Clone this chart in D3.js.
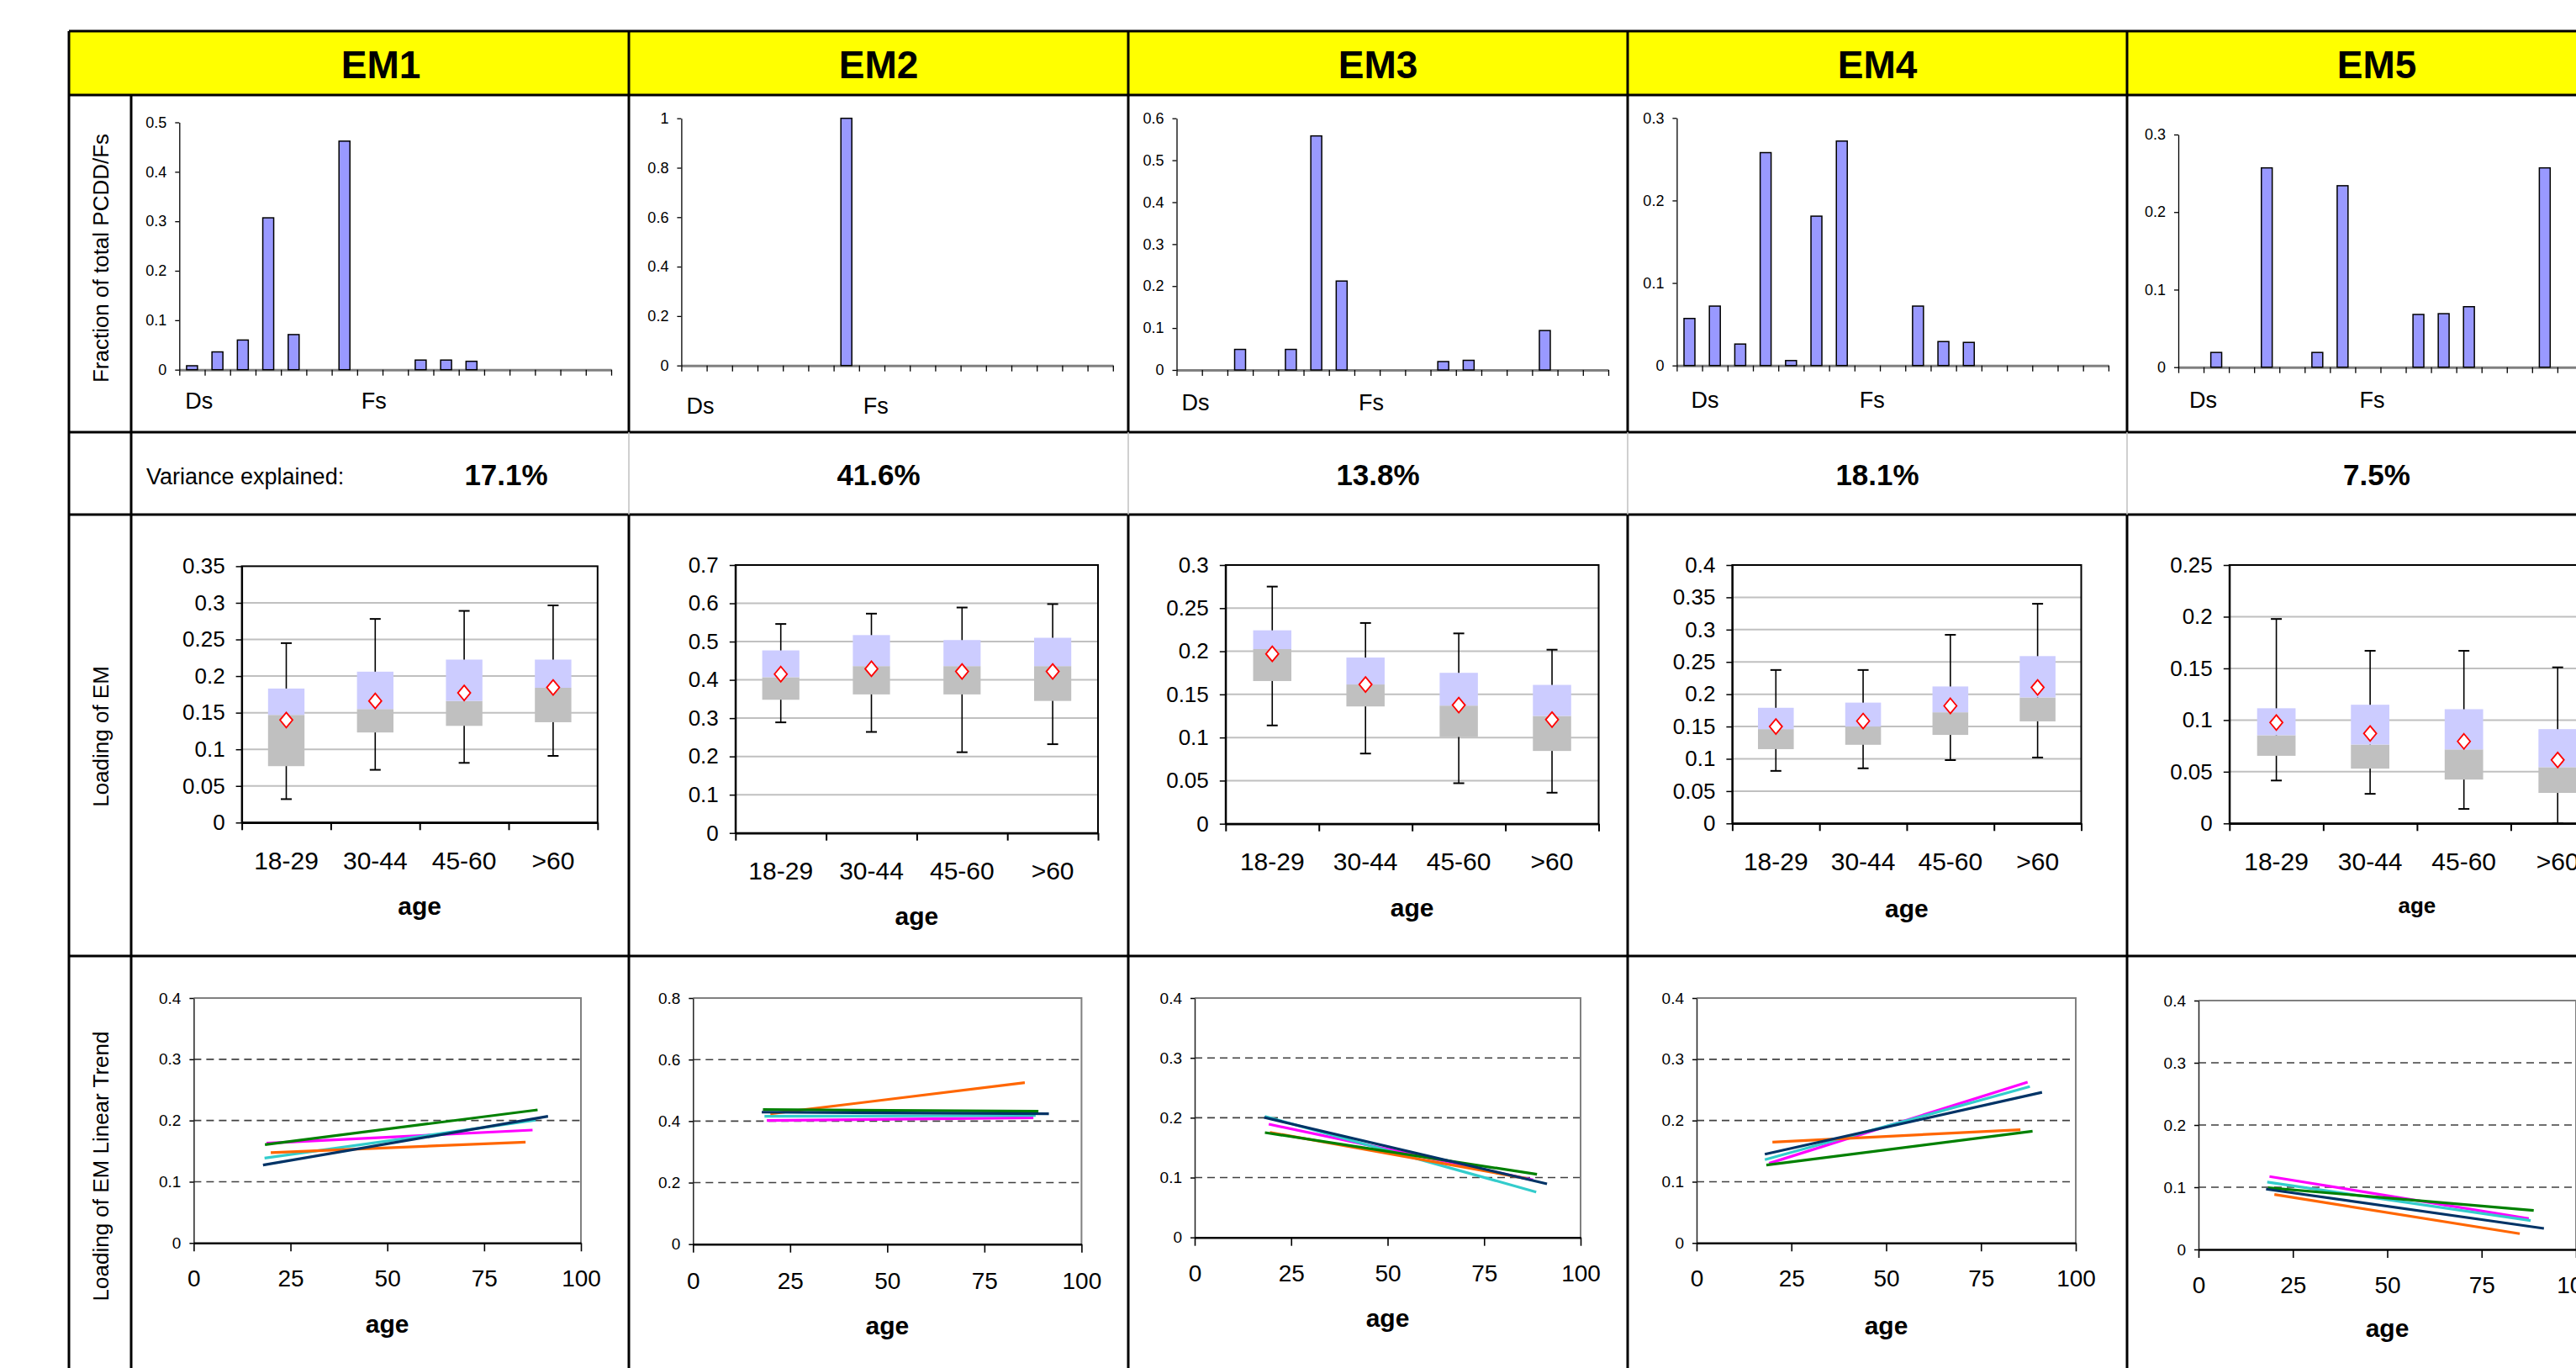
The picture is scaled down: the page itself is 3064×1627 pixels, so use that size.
<!DOCTYPE html>
<html><head><meta charset="utf-8">
<script src="https://cdn.jsdelivr.net/npm/d3@7"></script>
<style>
html,body{margin:0;padding:0;background:#fff;overflow:hidden;}
svg{display:block;font-family:"Liberation Sans",Arial,Helvetica,sans-serif;}
</style></head><body>
<svg id="chart" width="3064" height="1627"></svg>
<script>
// ================= DATA =================
const emNames = ["EM1","EM2","EM3","EM4","EM5"];
const varianceExplained = ["17.1%","41.6%","13.8%","18.1%","7.5%"];
const varianceLabel = "Variance explained:";
const rowLabels = ["Fraction of total PCDD/Fs","Loading of EM","Loading of EM Linear Trend"];

// congener profiles (17 congeners: 7 PCDDs then 10 PCDFs)
const profileGroupLabels = ["Ds","Fs"];
const profileGroupStart = [0, 7];
const profileEM1 = [0.008,0.036,0.060,0.307,0.071,0,0.462,0,0,0.0195,0.0195,0.017,0,0,0,0,0];
const profileEM2 = [0,0,0,0,0,0,1.0,0,0,0,0,0,0,0,0,0,0];
const profileEM3 = [0,0,0.049,0,0.049,0.558,0.212,0,0,0,0.020,0.023,0,0,0.094,0,0];
const profileEM4 = [0.057,0.072,0.026,0.258,0.006,0.181,0.272,0,0,0.072,0.029,0.028,0,0,0,0,0];
const profileEM5 = [0,0.019,0,0.257,0,0.019,0.234,0,0,0.068,0.069,0.078,0,0,0.257,0,0];
const profileMax  = [0.5,1,0.6,0.3,0.3];
const profileStep = [0.1,0.2,0.1,0.1,0.1];

// box plots by age group: [whiskerLow, q1, median, q3, whiskerHigh, mean]
const ageGroups = ["18-29","30-44","45-60",">60"];
const boxEM1 = [[0.032,0.077,0.147,0.183,0.245,0.140],[0.072,0.123,0.155,0.206,0.278,0.166],[0.0815,0.132,0.166,0.2225,0.289,0.177],[0.091,0.137,0.184,0.2225,0.2965,0.1845]];
const boxEM2 = [[0.289,0.348,0.407,0.477,0.546,0.415],[0.264,0.362,0.436,0.517,0.573,0.429],[0.211,0.362,0.436,0.504,0.589,0.422],[0.232,0.345,0.436,0.510,0.598,0.422]];
const boxEM3 = [[0.114,0.1655,0.2025,0.2243,0.275,0.197],[0.0814,0.136,0.1615,0.1927,0.2328,0.1615],[0.047,0.1006,0.137,0.175,0.2207,0.1376],[0.036,0.0844,0.125,0.161,0.2018,0.1208]];
const boxEM4 = [[0.0813,0.115,0.146,0.179,0.2375,0.150],[0.0853,0.1217,0.150,0.187,0.2375,0.1585],[0.098,0.137,0.172,0.212,0.292,0.182],[0.102,0.158,0.195,0.259,0.340,0.2105]];
const boxEM5 = [[0.0415,0.0654,0.0853,0.1114,0.1978,0.0976],[0.0286,0.053,0.0763,0.1148,0.167,0.087],[0.014,0.0424,0.0716,0.1105,0.167,0.0794],[0.0,0.0295,0.0544,0.0912,0.151,0.0614]];
const boxMax  = [0.35,0.7,0.3,0.4,0.25];
const boxStep = [0.05,0.1,0.05,0.05,0.05];

// linear trends: [ageStart, loadingStart, ageEnd, loadingEnd] per series
const trendSeries = ["magenta","cyan","orange","green","navy"];
const trendEM1 = [[18.8,0.163,87.5,0.1844],[18.3,0.1387,88.3,0.2005],[19.9,0.1474,85.7,0.1648],[18.4,0.1606,88.8,0.2174],[17.9,0.1272,91.5,0.2069]];
const trendEM2 = [[19.0,0.4018,87.6,0.411],[18.4,0.4155,88.2,0.418],[19.9,0.4237,85.4,0.5248],[18.0,0.4374,88.9,0.432],[17.7,0.429,91.6,0.4237]];
const trendEM3 = [[19.2,0.1892,87.7,0.096],[18.2,0.2023,88.5,0.0759],[19.5,0.1756,86.0,0.0984],[18.2,0.1752,88.7,0.1054],[18.0,0.2005,91.3,0.0895]];
const trendEM4 = [[19.1,0.130,87.3,0.2627],[18.0,0.136,87.9,0.2554],[20.0,0.1648,85.4,0.1849],[18.4,0.1272,88.6,0.1826],[18.0,0.145,91.1,0.246]];
const trendEM5 = [[18.8,0.1172,87.5,0.0496],[18.2,0.1082,88.0,0.0464],[20.1,0.0884,85.1,0.0253],[18.4,0.0992,88.8,0.0627],[17.9,0.097,91.5,0.0338]];
const trendAgeTicks = [0,25,50,75,100];
const trendMax  = [0.4,0.8,0.4,0.4,0.4];
const trendStep = [0.1,0.2,0.1,0.1,0.1];
const axisTitle = "age";

// ================= LAYOUT / STYLE =================
const profiles = [profileEM1,profileEM2,profileEM3,profileEM4,profileEM5];
const boxes = [boxEM1,boxEM2,boxEM3,boxEM4,boxEM5];
const trends = [trendEM1,trendEM2,trendEM3,trendEM4,trendEM5];
const seriesColor = {magenta:"#FF00FF", cyan:"#33CCCC", orange:"#FF6600", green:"#008000", navy:"#003366"};

const W = 3064, H = 1627;
const colX = [156,748,1342,1936,2530];
const colW = 594;
const rowY = [37,113,514,612,1137];
const tableLeft = 82;

const profileLayout = [
  {x0:213.3, x1:727,    y0:439.7, yTop:145.5, labBase:486,   labOff:[7,5]},
  {x0:810.4, x1:1323.8, y0:434.7, yTop:140.7, labBase:491.7, labOff:[6,5]},
  {x0:1399.5,x1:1913,   y0:440,   yTop:140.7, labBase:488,   labOff:[6,5]},
  {x0:1994.4,x1:2507.9, y0:434.7, yTop:140.3, labBase:485,   labOff:[17,6]},
  {x0:2591,  x1:3102,   y0:436.7, yTop:160,   labBase:485,   labOff:[13,5]}
];
const boxLayout = [
  {x0:287.6, x1:710.8, y0:978.3, yTop:673.4, labBase:1034, ageBase:1088, ageFs:30},
  {x0:874.8, x1:1306,  y0:990.7, yTop:672,   labBase:1046, ageBase:1100, ageFs:30},
  {x0:1457.8,x1:1901.5,y0:979.7, yTop:672,   labBase:1035, ageBase:1090, ageFs:30},
  {x0:2060.4,x1:2475.5,y0:979.3, yTop:672,   labBase:1035, ageBase:1091, ageFs:30},
  {x0:2651.8,x1:3098,  y0:979.3, yTop:672,   labBase:1035, ageBase:1086, ageFs:26}
];
const trendLayout = [
  {x0:230.4, x1:691,    y0:1478.3, yTop:1187, labBase:1530,   ageBase:1585},
  {x0:824.3, x1:1286.4, y0:1479.7, yTop:1187, labBase:1532.7, ageBase:1586.7},
  {x0:1421,  x1:1880,   y0:1471.7, yTop:1187, labBase:1524,   ageBase:1578},
  {x0:2018,  x1:2469,   y0:1478.3, yTop:1187, labBase:1530,   ageBase:1586.7},
  {x0:2615,  x1:3064,   y0:1486,   yTop:1190, labBase:1538,   ageBase:1590}
];

const fmt = d3.format(".2~f");
function ticksFor(max, step){ return d3.range(0, Math.round(max/step)+1).map(k => +(k*step).toFixed(4)); }
function styleAxis(g, o){
  g.selectAll("text").attr("font-size", o.fs).attr("fill","#000")
    .attr("font-family",'"Liberation Sans",Arial,sans-serif');
  g.selectAll(".tick line").attr("stroke", o.tickColor || "#000").attr("stroke-width", o.tw || 1.5);
  if (o.noDomain) g.select(".domain").remove();
  else g.select(".domain").attr("stroke", o.domainColor || "#000").attr("stroke-width", o.dw || 1.5);
}

const svg = d3.select("#chart");
svg.append("rect").attr("width",W).attr("height",H).attr("fill","#fff");

// ---------- table ----------
svg.append("rect").attr("x",tableLeft).attr("y",rowY[0]).attr("width",W-tableLeft+10).attr("height",rowY[1]-rowY[0]).attr("fill","#FFFF00");
const tbl = svg.append("g").attr("stroke","#000").attr("stroke-width",3);
rowY.forEach(y => tbl.append("line").attr("x1",tableLeft).attr("x2",W+10).attr("y1",y).attr("y2",y));
tbl.append("line").attr("x1",tableLeft).attr("x2",tableLeft).attr("y1",rowY[0]).attr("y2",H+10);
tbl.append("line").attr("x1",colX[0]).attr("x2",colX[0]).attr("y1",rowY[1]).attr("y2",H+10);
colX.slice(1).forEach(x => {
  tbl.append("line").attr("x1",x).attr("x2",x).attr("y1",rowY[0]).attr("y2",rowY[2]);
  tbl.append("line").attr("x1",x).attr("x2",x).attr("y1",rowY[2]).attr("y2",rowY[3]).attr("stroke","#C0C0C0").attr("stroke-width",1.5);
  tbl.append("line").attr("x1",x).attr("x2",x).attr("y1",rowY[3]).attr("y2",H+10);
});

// titles
emNames.forEach((n,i) => {
  svg.append("text").attr("x",colX[i]+colW/2).attr("y",93).attr("text-anchor","middle")
    .attr("font-size",46).attr("font-weight","bold").text(n);
});

// row labels
const rowLabelCenters = [307, 876, 1387];
rowLabels.forEach((t,i) => {
  svg.append("text").attr("transform",`translate(119.5,${rowLabelCenters[i]}) rotate(-90)`)
    .attr("text-anchor","middle").attr("dominant-baseline","central")
    .attr("font-size",26).text(t);
});

// variance row
svg.append("text").attr("x",174).attr("y",576).attr("font-size",27).text(varianceLabel);
varianceExplained.forEach((v,i) => {
  const cx = i === 0 ? 602 : colX[i] + colW/2;
  svg.append("text").attr("x",cx).attr("y",577).attr("text-anchor","middle")
    .attr("font-size",35).attr("font-weight","bold").text(v);
});

// ---------- profile bar charts ----------
profiles.forEach((data,i) => {
  const p = profileLayout[i];
  const g = svg.append("g");
  const n = data.length;
  const xBand = d3.scaleBand().domain(d3.range(n)).range([p.x0,p.x1]).paddingInner(0.57).paddingOuter(0.285);
  const xLin = d3.scaleLinear().domain([0,n]).range([p.x0,p.x1]);
  const y = d3.scaleLinear().domain([0,profileMax[i]]).range([p.y0,p.yTop]);
  // x axis
  const gx = g.append("g").attr("transform",`translate(0,${p.y0})`)
    .call(d3.axisBottom(xLin).tickValues(d3.range(n+1)).tickSize(7).tickSizeOuter(0).tickFormat(""));
  styleAxis(gx,{fs:18, domainColor:"#808080", dw:3, tw:1.3});
  // y axis
  const gy = g.append("g").attr("transform",`translate(${p.x0},0)`)
    .call(d3.axisLeft(y).tickValues(ticksFor(profileMax[i],profileStep[i])).tickSize(5).tickSizeOuter(0).tickPadding(10).tickFormat(fmt));
  styleAxis(gy,{fs:18, dw:1.3, tw:1.3});
  // bars
  g.selectAll("rect.bar").data(data.map((v,k)=>({v,k})).filter(d=>d.v>0)).join("rect")
    .attr("class","bar")
    .attr("x",d=>xBand(d.k)).attr("width",xBand.bandwidth())
    .attr("y",d=>y(d.v)).attr("height",d=>p.y0-y(d.v))
    .attr("fill","#9999FF").attr("stroke","#000").attr("stroke-width",1.5);
  // group labels
  profileGroupLabels.forEach((t,k) => {
    g.append("text").attr("x",xLin(profileGroupStart[k])+p.labOff[k]).attr("y",p.labBase)
      .attr("font-size",27).text(t);
  });
});

// ---------- box plots ----------
boxes.forEach((data,i) => {
  const p = boxLayout[i];
  const g = svg.append("g");
  const xBand = d3.scaleBand().domain(ageGroups).range([p.x0,p.x1]).paddingInner(0.59).paddingOuter(0.295);
  const xLin = d3.scaleLinear().domain([0,ageGroups.length]).range([p.x0,p.x1]);
  const y = d3.scaleLinear().domain([0,boxMax[i]]).range([p.y0,p.yTop]);
  const ticks = ticksFor(boxMax[i],boxStep[i]);
  // gridlines
  g.selectAll("line.grid").data(ticks.filter(t=>t>0 && t<boxMax[i]-1e-9)).join("line")
    .attr("x1",p.x0).attr("x2",p.x1).attr("y1",d=>y(d)).attr("y2",d=>y(d))
    .attr("stroke","#C0C0C0").attr("stroke-width",2);
  // border
  g.append("rect").attr("x",p.x0).attr("y",p.yTop).attr("width",p.x1-p.x0).attr("height",p.y0-p.yTop)
    .attr("fill","none").attr("stroke","#000").attr("stroke-width",2);
  // axes
  const gy = g.append("g").attr("transform",`translate(${p.x0},0)`)
    .call(d3.axisLeft(y).tickValues(ticks).tickSize(7).tickSizeOuter(0).tickPadding(13).tickFormat(fmt));
  styleAxis(gy,{fs:26, dw:2});
  const gx = g.append("g").attr("transform",`translate(0,${p.y0})`)
    .call(d3.axisBottom(xLin).tickValues(d3.range(ageGroups.length+1)).tickSize(9).tickSizeOuter(0).tickFormat(""));
  styleAxis(gx,{fs:26, dw:2.5, tw:2});
  const labFs = 30;
  const gl = g.append("g").attr("transform",`translate(0,${p.y0})`)
    .call(d3.axisBottom(xBand).tickSize(0).tickPadding(p.labBase - p.y0 - 0.71*labFs));
  styleAxis(gl,{fs:labFs, noDomain:true});
  // boxes
  const bw = xBand.bandwidth();
  data.forEach((d,k) => {
    const [wl,q1,med,q3,wh,mean] = d;
    const cx = xBand(ageGroups[k]) + bw/2;
    g.append("line").attr("x1",cx).attr("x2",cx).attr("y1",y(wl)).attr("y2",y(wh)).attr("stroke","#000").attr("stroke-width",1.6);
    [wl,wh].forEach(v => g.append("line").attr("x1",cx-6.5).attr("x2",cx+6.5).attr("y1",y(v)).attr("y2",y(v)).attr("stroke","#000").attr("stroke-width",2));
    g.append("rect").attr("x",cx-bw/2).attr("width",bw).attr("y",y(med)).attr("height",y(q1)-y(med)).attr("fill","#C0C0C0");
    g.append("rect").attr("x",cx-bw/2).attr("width",bw).attr("y",y(q3)).attr("height",y(med)-y(q3)).attr("fill","#CCCCFF");
    const my = y(mean);
    g.append("path").attr("d",`M${cx},${my-9}L${cx+7.5},${my}L${cx},${my+9}L${cx-7.5},${my}Z`)
      .attr("fill","#fff").attr("stroke","#FF0000").attr("stroke-width",1.8);
  });
  g.append("text").attr("x",(p.x0+p.x1)/2).attr("y",p.ageBase).attr("text-anchor","middle")
    .attr("font-size",p.ageFs).attr("font-weight","bold").text(axisTitle);
});

// ---------- linear trend charts ----------
trends.forEach((data,i) => {
  const p = trendLayout[i];
  const g = svg.append("g");
  const x = d3.scaleLinear().domain([0,100]).range([p.x0,p.x1]);
  const y = d3.scaleLinear().domain([0,trendMax[i]]).range([p.y0,p.yTop]);
  const ticks = ticksFor(trendMax[i],trendStep[i]);
  g.selectAll("line.grid").data(ticks.filter(t=>t>0 && t<trendMax[i]-1e-9)).join("line")
    .attr("x1",p.x0).attr("x2",p.x1).attr("y1",d=>y(d)).attr("y2",d=>y(d))
    .attr("stroke","#404040").attr("stroke-width",1.6).attr("stroke-dasharray","9,6");
  // top and right border (gray)
  g.append("path").attr("d",`M${p.x0},${p.yTop}H${p.x1}V${p.y0}`).attr("fill","none")
    .attr("stroke","#808080").attr("stroke-width",2);
  const gy = g.append("g").attr("transform",`translate(${p.x0},0)`)
    .call(d3.axisLeft(y).tickValues(ticks).tickSize(5).tickSizeOuter(0).tickPadding(10).tickFormat(fmt));
  styleAxis(gy,{fs:19, dw:1.5, domainColor:"#222"});
  const xfs = 28;
  const gx = g.append("g").attr("transform",`translate(0,${p.y0})`)
    .call(d3.axisBottom(x).tickValues(trendAgeTicks).tickSize(10).tickSizeOuter(0)
      .tickPadding(p.labBase - p.y0 - 10 - 0.71*xfs).tickFormat(d3.format("d")));
  styleAxis(gx,{fs:xfs, dw:2.5, tw:1.6});
  data.forEach((d,k) => {
    g.append("line").attr("x1",x(d[0])).attr("y1",y(d[1])).attr("x2",x(d[2])).attr("y2",y(d[3]))
      .attr("stroke",seriesColor[trendSeries[k]]).attr("stroke-width",3.2);
  });
  g.append("text").attr("x",(p.x0+p.x1)/2).attr("y",p.ageBase).attr("text-anchor","middle")
    .attr("font-size",30).attr("font-weight","bold").text(axisTitle);
});
</script>
</body></html>
